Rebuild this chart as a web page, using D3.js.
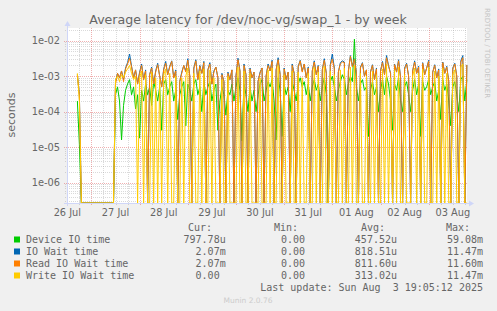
<!DOCTYPE html>
<html>
<head>
<meta charset="utf-8">
<script src="https://cdnjs.cloudflare.com/ajax/libs/d3/7.8.5/d3.min.js"></script>
<style>
  body { margin: 0; background: #f0f0f0; }
  svg { display: block; }
</style>
</head>
<body>
<div id="chart"></div>
<script>
// hourly averages, first point Jul 26 13:00 (local), 0 = no latency, null = no data
const firstHour = new Date(2025, 6, 26, 13, 0);

const deviceIO = [
  null,null,null,null,2e-4,1.2e-5,0,0,0,0,
  0,0,0,0,0,0,0,0,0,0,
  0,0,0,3e-4,5e-4,2e-4,1.6e-5,1.5e-4,4e-4,6e-4,
  8e-4,3e-4,5e-4,1.2e-4,3e-4,1.8e-5,4e-4,2e-4,6e-4,3e-4,
  5e-4,1.5e-4,7e-4,4e-4,2e-4,5e-4,3e-5,6e-4,8e-4,3e-4,
  5e-4,7e-4,2e-4,4e-4,6e-5,3e-4,5e-4,7e-4,4e-5,6e-4,
  4e-4,2e-4,6e-4,8e-4,3e-4,5e-4,1e-4,7e-4,3e-4,5e-4,
  7e-4,2e-4,4e-4,6e-4,3e-5,2e-4,5e-4,3e-4,8e-5,4e-4,
  3e-4,6e-4,2e-4,5e-4,9e-4,4e-4,1.5e-5,6e-4,3e-4,1e-4,
  5e-4,2e-4,4e-4,1e-4,3e-4,6e-4,8e-4,2e-4,4e-4,7e-4,
  5e-4,8e-4,2e-4,1.6e-5,9e-4,4e-4,2e-5,6e-4,3e-4,5e-4,
  1e-4,7e-4,4e-4,2e-4,6e-4,9e-4,5e-4,7e-4,3e-4,6e-4,
  2e-4,5e-4,8e-4,4e-4,6e-4,2e-4,5e-4,9e-4,3e-4,0,
  7e-4,1e-3,5e-4,2e-4,4e-4,7e-4,1.1e-3,8e-4,3e-4,6e-4,
  1e-3,7e-4,1.1e-2,5e-4,2e-4,6e-4,8e-4,4e-4,5e-4,2e-5,
  4e-4,7e-4,3e-4,5e-4,1e-4,4e-4,8e-4,3e-4,1e-3,6e-4,
  2e-4,3e-5,6e-4,4e-4,9e-4,2e-4,1e-4,5e-4,7e-4,3e-4,
  1e-4,4e-4,8e-4,3e-4,6e-4,2e-5,7e-4,4e-4,5e-4,8e-4,
  3e-4,5e-4,7e-4,2e-4,4e-4,6e-5,8e-4,4e-4,6e-4,2e-4,
  4e-5,5e-4,7e-4,3e-4,1e-4,8e-4,1e-3,2e-4,7.98e-4
];

const ioWait = [
  null,null,null,null,1.1e-3,3e-4,0,0,0,0,
  0,0,0,0,0,0,0,0,0,0,
  0,0,0,7e-4,1.2e-3,9e-4,1.4e-3,8e-4,1.7e-3,2.4e-3,
  4.2e-3,1.9e-3,9e-4,1.5e-3,6e-4,1.3e-3,2.2e-3,8e-4,1.5e-3,0,
  1.1e-3,1.8e-3,6e-4,1.4e-3,2.3e-3,1e-3,5e-4,1.6e-3,2.6e-3,1.1e-3,
  1.9e-3,2.7e-3,9e-4,1.5e-3,0,7e-4,1.3e-3,2e-3,1.4e-3,3.1e-3,
  1e-3,0,1.7e-3,2.9e-3,8e-4,2e-3,1.2e-3,2.6e-3,0,1.5e-3,
  2.4e-3,6e-4,1.4e-3,1.8e-3,9e-4,0,1.2e-3,7e-4,0,1.3e-3,
  8e-4,1.5e-3,0,1e-3,3.2e-3,1.4e-3,0,2.2e-3,1.1e-3,0,
  1.7e-3,9e-4,1.3e-3,0,7e-4,1.3e-3,1.7e-3,0,1e-3,2.2e-3,
  1.4e-3,2.8e-3,0,1.5e-3,3.3e-3,1.1e-3,0,1.7e-3,8e-4,1.3e-3,
  0,2.2e-3,1.2e-3,0,1.9e-3,2.8e-3,1.4e-3,2.2e-3,9e-4,1.8e-3,
  0,1.4e-3,2.7e-3,1.1e-3,2e-3,0,1.5e-3,3.1e-3,1.2e-3,0,
  2.1e-3,4.2e-3,1.7e-3,0,1.3e-3,2.4e-3,2.7e-3,2.5e-3,0,1.4e-3,
  3.8e-3,1.9e-3,3.1e-3,1.2e-3,0,1.8e-3,2.4e-3,1e-3,1.5e-3,0,
  1.3e-3,2.1e-3,8e-4,1.7e-3,0,1.4e-3,2.6e-3,1.1e-3,3.8e-3,2e-3,
  1.2e-3,0,2.2e-3,1.3e-3,2.9e-3,9e-4,0,1.7e-3,2.3e-3,1e-3,
  0,1.4e-3,2.7e-3,1.2e-3,1.9e-3,0,2.4e-3,1.1e-3,1.7e-3,2.8e-3,
  0,1.3e-3,2.1e-3,9e-4,1.6e-3,0,2.5e-3,1.2e-3,1.9e-3,7e-4,
  0,1.7e-3,2.3e-3,1e-3,0,2.7e-3,3.8e-3,0,2.07e-3
];

const readWait = [
  null,null,null,null,1.1e-3,3e-4,0,0,0,0,
  0,0,0,0,0,0,0,0,0,0,
  0,0,0,6e-4,1.2e-3,9e-4,1.4e-3,7e-4,1.6e-3,2.2e-3,
  3.2e-3,1.8e-3,9e-4,1.5e-3,6e-4,1.2e-3,2e-3,8e-4,1.4e-3,0,
  1.1e-3,1.7e-3,6e-4,1.3e-3,2.1e-3,1e-3,5e-4,1.5e-3,2.3e-3,1.1e-3,
  1.8e-3,2.6e-3,9e-4,1.4e-3,0,7e-4,1.2e-3,2e-3,1.3e-3,2.8e-3,
  1e-3,0,1.6e-3,2.7e-3,8e-4,1.9e-3,1.2e-3,2.4e-3,0,1.5e-3,
  2.2e-3,6e-4,1.3e-3,1.8e-3,9e-4,0,1.1e-3,7e-4,0,1.2e-3,
  8e-4,1.5e-3,0,1e-3,2.9e-3,1.4e-3,0,2e-3,1.1e-3,0,
  1.6e-3,9e-4,1.3e-3,0,7e-4,1.2e-3,1.7e-3,0,1e-3,2e-3,
  1.4e-3,2.6e-3,0,1.5e-3,2.9e-3,1.1e-3,0,1.6e-3,8e-4,1.3e-3,
  0,2e-3,1.2e-3,0,1.8e-3,2.7e-3,1.3e-3,2.2e-3,9e-4,1.7e-3,
  0,1.4e-3,2.5e-3,1.1e-3,1.9e-3,0,1.5e-3,2.8e-3,1.2e-3,0,
  2e-3,3e-3,1.6e-3,0,1.3e-3,2.2e-3,2.5e-3,2.4e-3,0,1.4e-3,
  3.6e-3,1.8e-3,3e-3,1.2e-3,0,1.7e-3,2.3e-3,1e-3,1.5e-3,0,
  1.3e-3,2e-3,8e-4,1.6e-3,0,1.4e-3,2.4e-3,1.1e-3,3.3e-3,1.9e-3,
  1.2e-3,0,2.1e-3,1.3e-3,2.7e-3,9e-4,0,1.6e-3,2.2e-3,1e-3,
  0,1.4e-3,2.5e-3,1.2e-3,1.8e-3,0,2.3e-3,1.1e-3,1.7e-3,2.6e-3,
  0,1.3e-3,2e-3,9e-4,1.5e-3,0,2.4e-3,1.2e-3,1.8e-3,7e-4,
  0,1.6e-3,2.2e-3,1e-3,0,2.5e-3,3.3e-3,0,2.07e-3
];

const writeWait = [
  null,null,null,null,1.2e-3,2e-4,0,0,0,0,
  0,0,0,0,0,0,0,0,0,0,
  0,0,0,8e-4,1e-3,7e-4,1.1e-3,9e-4,1.3e-3,1.6e-3,
  2e-3,1.2e-3,8e-4,1e-3,0,9e-4,1.4e-3,0,1.1e-3,0,
  0,1.3e-3,0,9e-4,0,8e-4,0,1.1e-3,1.6e-3,0,
  1.2e-3,0,0,1e-3,0,0,9e-4,0,1e-3,1.7e-3,
  0,0,1.2e-3,0,0,1.4e-3,0,1.6e-3,0,0,
  1.5e-3,0,9e-4,0,0,0,8e-4,0,0,1e-3,
  0,0,0,0,1.8e-3,0,0,1.4e-3,0,0,
  1.2e-3,0,0,0,0,9e-4,0,0,0,1.5e-3,
  0,1.7e-3,0,0,2e-3,0,0,1.1e-3,0,0,
  0,1.4e-3,0,0,1.3e-3,0,9e-4,0,0,1.2e-3,
  0,0,1.8e-3,0,1.3e-3,0,0,1.9e-3,0,0,
  1.4e-3,0,1.1e-3,0,0,1.5e-3,0,1.7e-3,0,0,
  1.8e-3,0,2e-3,0,0,1.2e-3,0,0,1e-3,0,
  0,1.4e-3,0,1.1e-3,0,0,1.6e-3,0,2.2e-3,0,
  9e-4,0,1.5e-3,0,1.8e-3,0,0,1.1e-3,0,0,
  0,1e-3,1.7e-3,0,1.2e-3,0,1.6e-3,0,0,1.8e-3,
  0,0,1.4e-3,0,1e-3,0,1.7e-3,0,1.2e-3,0,
  0,1.1e-3,1.5e-3,0,0,1.8e-3,2.2e-3,0,0
];

const seriesNames = ["Device IO time", "IO Wait time", "Read IO Wait time", "Write IO Wait time"];
const seriesColors = ["#00cc00", "#0066b3", "#ff8000", "#ffcc00"];
const curValues = ["797.78u", "2.07m", "2.07m", "0.00"];
const minValues = ["0.00", "0.00", "0.00", "0.00"];
const avgValues = ["457.52u", "818.51u", "811.60u", "313.02u"];
const maxValues = ["59.08m", "11.47m", "11.60m", "11.47m"];
const yTickValues = [1e-6, 1e-5, 1e-4, 1e-3, 1e-2];
const yTickLabels = ["1e-06", "1e-05", "1e-04", "1e-03", "1e-02"];

const W = 497, H = 311;
const plotL = 67, plotR = 467, plotT = 28, plotB = 203;
const yMin = 2.68e-7, yMax = 2.27e-2;

const x = d3.scaleTime()
    .domain([new Date(2025, 6, 26, 11, 50), new Date(2025, 7, 3, 19, 5)])
    .range([plotL, plotR]);
const y = d3.scaleLog().domain([yMin, yMax]).range([plotB, plotT]);

const svg = d3.select("#chart").append("svg")
    .attr("width", W)
    .attr("height", H)
    .style("font-family", "'DejaVu Sans', sans-serif");

svg.append("rect").attr("width", W).attr("height", H).attr("fill", "#f0f0f0");
svg.append("rect")
    .attr("x", plotL).attr("y", plotT)
    .attr("width", plotR - plotL).attr("height", plotB - plotT)
    .attr("fill", "#ffffff");

// grid
const minorColor = "rgba(150,150,150,0.35)";
const majorColor = "rgba(222,80,80,0.45)";
const grid = svg.append("g").attr("shape-rendering", "crispEdges");

const [t0, t1] = x.domain();
const sixHours = d3.timeHour.every(6).range(t0, t1).filter(d => d.getHours() !== 0);
const days = d3.timeDay.range(t0, t1);

grid.selectAll(".vminor").data(sixHours).join("line")
    .attr("x1", d => Math.round(x(d)) + 0.5).attr("x2", d => Math.round(x(d)) + 0.5)
    .attr("y1", plotT).attr("y2", plotB + 2)
    .attr("stroke", minorColor).attr("stroke-dasharray", "1,1");

const minorY = [];
for (let e = -7; e <= -1; e++) {
    for (let k = 2; k <= 9; k++) {
        const v = k * Math.pow(10, e);
        if (v > yMin && v < yMax) minorY.push(v);
    }
}
grid.selectAll(".hminor").data(minorY).join("line")
    .attr("x1", plotL - 2).attr("x2", plotR)
    .attr("y1", d => Math.round(y(d)) + 0.5).attr("y2", d => Math.round(y(d)) + 0.5)
    .attr("stroke", minorColor).attr("stroke-dasharray", "1,1");

grid.selectAll(".vmajor").data(days).join("line")
    .attr("x1", d => Math.round(x(d)) + 0.5).attr("x2", d => Math.round(x(d)) + 0.5)
    .attr("y1", plotT).attr("y2", plotB + 3)
    .attr("stroke", majorColor).attr("stroke-dasharray", "1,1");

grid.selectAll(".hmajor").data(yTickValues).join("line")
    .attr("x1", plotL - 3).attr("x2", plotR)
    .attr("y1", d => Math.round(y(d)) + 0.5).attr("y2", d => Math.round(y(d)) + 0.5)
    .attr("stroke", majorColor).attr("stroke-dasharray", "1,1");

// series lines
const points = arr => arr.map((v, i) => ({ t: d3.timeHour.offset(firstHour, i), v: v }));
const line = d3.line()
    .defined(d => d.v !== null)
    .x(d => x(d.t))
    .y(d => y(Math.max(d.v, yMin)));

svg.append("defs").append("clipPath").attr("id", "plotclip")
  .append("rect").attr("x", plotL).attr("y", plotT - 1)
    .attr("width", plotR - plotL + 1).attr("height", plotB - plotT + 1.5);

const plot = svg.append("g").attr("clip-path", "url(#plotclip)");
[deviceIO, ioWait, readWait, writeWait].forEach((arr, k) => {
    plot.append("path")
        .datum(points(arr))
        .attr("d", line)
        .attr("fill", "none")
        .attr("stroke", seriesColors[k])
        .attr("stroke-width", 1);
});

// axes
const axisColor = "#cfd6f8";
svg.append("line")
    .attr("x1", plotL - 3).attr("x2", plotR + 4)
    .attr("y1", plotB + 0.5).attr("y2", plotB + 0.5)
    .attr("stroke", axisColor);
svg.append("line")
    .attr("x1", plotL + 0.5).attr("x2", plotL + 0.5)
    .attr("y1", plotB + 3).attr("y2", plotT - 4)
    .attr("stroke", axisColor);
svg.append("path")
    .attr("d", `M${plotR + 7},${plotB + 0.5} L${plotR + 2},${plotB - 2.5} L${plotR + 2},${plotB + 3.5} Z`)
    .attr("fill", axisColor);
svg.append("path")
    .attr("d", `M${plotL + 0.5},${plotT - 7} L${plotL - 2.5},${plotT - 2} L${plotL + 3.5},${plotT - 2} Z`)
    .attr("fill", axisColor);

// axis labels
const textColor = "#666666";
svg.append("g").selectAll("text").data(yTickValues).join("text")
    .attr("x", 60)
    .attr("y", d => y(d) + 3.5)
    .attr("text-anchor", "end")
    .attr("font-size", 9.8)
    .attr("fill", textColor)
    .text((d, i) => yTickLabels[i]);

const dayFormat = d3.timeFormat("%d %b");
const noons = d3.timeDay.range(d3.timeDay.floor(t0), t1).map(d => d3.timeHour.offset(d, 12));
svg.append("g").selectAll("text").data(noons).join("text")
    .attr("x", d => x(d))
    .attr("y", 216)
    .attr("text-anchor", "middle")
    .attr("font-size", 9.8)
    .attr("fill", textColor)
    .text(d => dayFormat(d));

svg.append("text")
    .attr("x", 248).attr("y", 23.5)
    .attr("text-anchor", "middle")
    .attr("font-size", 12.6)
    .attr("fill", textColor)
    .text("Average latency for /dev/noc-vg/swap_1 - by week");

svg.append("text")
    .attr("transform", "translate(15,115) rotate(-90)")
    .attr("text-anchor", "middle")
    .attr("font-size", 11)
    .attr("fill", textColor)
    .text("seconds");

svg.append("text")
    .attr("transform", "translate(485,53) rotate(90)")
    .attr("text-anchor", "middle")
    .attr("font-size", 7)
    .attr("fill", "#c4c4c4")
    .text("RRDTOOL / TOBI OETIKER");

// legend
const mono = "'DejaVu Sans Mono', monospace";
const charW = 6.02;
const legend = svg.append("g").style("font-family", mono).attr("font-size", 10).attr("fill", textColor);

const headers = [["Cur:", 212], ["Min:", 298], ["Avg:", 385], ["Max:", 470]];
legend.selectAll(".hdr").data(headers).join("text")
    .attr("x", d => d[1]).attr("y", 231)
    .attr("text-anchor", "end")
    .text(d => d[0]);

const colEnds = [225.7, 311, 397, 483];
const endX = (s, col) => /[a-zA-Z]$/.test(s) ? colEnds[col] : colEnds[col] - charW;

seriesNames.forEach((name, i) => {
    const rowY = 243 + i * 12;
    legend.append("rect")
        .attr("x", 14).attr("y", rowY - 6.5)
        .attr("width", 6).attr("height", 6)
        .attr("fill", seriesColors[i]);
    legend.append("text").attr("x", 26).attr("y", rowY).text(name);
    [curValues[i], minValues[i], avgValues[i], maxValues[i]].forEach((s, c) => {
        legend.append("text")
            .attr("x", endX(s, c)).attr("y", rowY)
            .attr("text-anchor", "end")
            .text(s);
    });
});

legend.append("text")
    .attr("x", 483).attr("y", 291)
    .attr("text-anchor", "end")
    .style("white-space", "pre")
    .text("Last update: Sun Aug  3 19:05:12 2025");

svg.append("text")
    .attr("x", 248).attr("y", 303)
    .attr("text-anchor", "middle")
    .attr("font-size", 7.5)
    .attr("fill", "#cccccc")
    .text("Munin 2.0.76");
</script>
</body>
</html>
